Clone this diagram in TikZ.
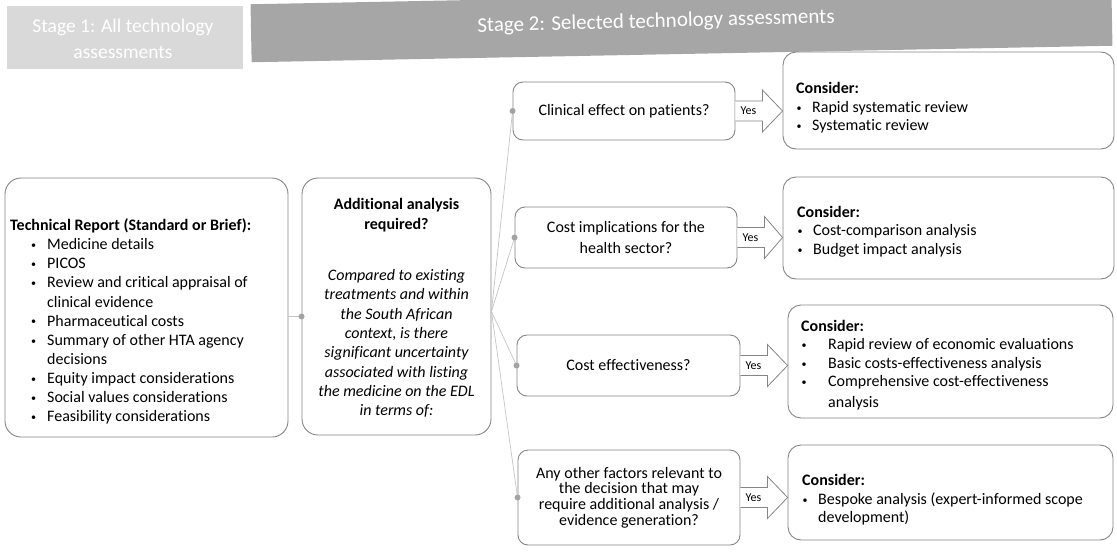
\documentclass[tikz,border=0pt]{standalone}
\usepackage{fontspec}
\setmainfont{Carlito}[Ligatures=NoCommon]
\usetikzlibrary{calc}
\definecolor{stageA}{HTML}{D9D9D9}
\definecolor{stageB}{HTML}{A6A6A6}
\definecolor{boxline}{HTML}{858585}
\definecolor{connc}{HTML}{C4C4C4}
\definecolor{dotc}{HTML}{A3A3A3}
\newcommand\smbul{\raisebox{1.2pt}{\fontsize{10}{10}\selectfont •}}
\newcommand\bul{\makebox[37pt][l]{\hspace{21pt}\smbul}}
\newcommand\ind{\hspace*{37pt}}
\newcommand\cbul{\makebox[16pt][l]{\hspace{0.5pt}\smbul}}
\newcommand\cbulw{\makebox[27pt][l]{\hspace{0.5pt}\smbul}}
\newcommand\cind{\hspace*{27pt}}
\begin{document}
\begin{tikzpicture}[x=1pt,y=-1pt,
  box/.style={draw=boxline, line width=0.9pt, rounded corners=13pt, fill=white, inner sep=0pt},
  qbox/.style={box, rounded corners=10pt, align=center},
  conn/.style={draw=connc, line width=0.7pt},
  yesarr/.style={draw=boxline, line width=0.8pt, fill=white, line join=miter},
  yeslbl/.style={font=\fontsize{12}{14}\selectfont, inner sep=0pt},
  body/.style={inner sep=0pt, align=left, font=\fontsize{16}{19.1}\selectfont},
  stagetxt/.style={text=white, inner sep=0pt, align=center, font=\fontsize{19.5}{25.5}\selectfont},
  dot/.style={fill=dotc}
]
\useasboundingbox (0,0) rectangle (1117,555);

% stage headers
\node[fill=stageA, minimum width=236pt, minimum height=63pt, inner sep=0pt] (s1) at (125,37.5) {};
\node[stagetxt] (s1t) at (123,39) {Stage 1: All technology\\assessments};
\node[fill=stageB, minimum width=861pt, minimum height=58pt, inner sep=0pt, rotate=1.1] (s2) at (681.5,25) {};
\node[stagetxt, font=\fontsize{21}{25}\selectfont, rotate=1.5] (s2t) at (656,22) {Stage 2: Selected technology assessments};

% left box
\node[box, rounded corners=16pt, minimum width=283pt, minimum height=259pt] (lbox) at (146.5,307.5) {};
\node[body, anchor=west] (ltxt) at (10,321.5) {\textbf{Technical Report (Standard or Brief):}\\
\bul Medicine details\\
\bul PICOS\\
\bul Review and critical appraisal of\\
\ind clinical evidence\\
\bul Pharmaceutical costs\\
\bul Summary of other HTA agency\\
\ind decisions\\
\bul Equity impact considerations\\
\bul Social values considerations\\
\bul Feasibility considerations};

% middle box
\node[box, rounded corners=16pt, minimum width=189pt, minimum height=257pt] (mbox) at (396.5,306.5) {};
\node[inner sep=0pt, align=center, font=\fontsize{16}{20}\selectfont\bfseries] (mtitle) at (396.5,215) {Additional analysis\\required?};
\node[inner sep=0pt, align=center, font=\fontsize{16}{19.3}\selectfont\itshape] (mtxt) at (396.5,343.5) {Compared to existing\\treatments and within\\the South African\\context, is there\\significant uncertainty\\associated with listing\\the medicine on the EDL\\in terms of:};

% question boxes
\node[qbox, minimum width=222pt, minimum height=58pt, font=\fontsize{16}{19.5}\selectfont] (q1) at (624,111) {Clinical effect on patients?};
\node[qbox, minimum width=222pt, minimum height=61pt, font=\fontsize{16}{21.5}\selectfont] (q2) at (626,237.5) {Cost implications for the\\health sector?};
\node[qbox, minimum width=223pt, minimum height=61pt, font=\fontsize{16}{19.5}\selectfont] (q3) at (628.5,365.5) {Cost effectiveness?};
\node[qbox, minimum width=222pt, minimum height=95pt, font=\fontsize{16}{15.7}\selectfont] (q4) at (629,497.5) {Any other factors relevant to\\the decision that may\\require additional analysis /\\evidence generation?};

% consider boxes
\node[box, minimum width=331pt, minimum height=97pt] (c1) at (948.5,100.5) {};
\node[body, anchor=west, font=\fontsize{16}{18.5}\selectfont] (c1t) at (796,108) {\textbf{Consider:}\\
\cbul Rapid systematic review\\
\cbul Systematic review};
\node[box, minimum width=331pt, minimum height=102pt] (c2) at (948.5,228) {};
\node[body, anchor=west, font=\fontsize{16}{18.5}\selectfont] (c2t) at (797,231.5) {\textbf{Consider:}\\
\cbul Cost-comparison analysis\\
\cbul Budget impact analysis};
\node[box, minimum width=325pt, minimum height=113pt] (c3) at (950.5,361.5) {};
\node[body, anchor=west, font=\fontsize{16}{18.5}\selectfont] (c3t) at (801,365) {\textbf{Consider:}\\
\cbulw Rapid review of economic evaluations\\
\cbulw Basic costs-effectiveness analysis\\
\cbulw Comprehensive cost-effectiveness\\[2pt]
\cind analysis};
\node[box, minimum width=325pt, minimum height=95pt] (c4) at (950.5,492.5) {};
\node[body, anchor=west, font=\fontsize{16}{18.5}\selectfont] (c4t) at (802,500) {\textbf{Consider:}\\
\cbul Bespoke analysis (expert-informed scope\\
\hspace*{16pt}development)};

% connectors
\coordinate (min) at ($(mbox.west)+(0,10)$);
\coordinate (mout) at ($(mbox.east)+(0,5)$);
\draw[conn] (min -| lbox.east) -- (min);
\foreach \q in {q1,q2,q3,q4}{
  \draw[conn] (mout) -- (\q.west);
}
\fill[dot] (min) circle[radius=3pt];
\foreach \q in {q1,q2,q3,q4}{
  \fill[dot] (\q.west) circle[radius=3pt];
}

% yes arrows
\foreach \q/\c in {q1/c1,q2/c2,q3/c3,q4/c4}{
  \draw[yesarr] ($(\q.east)+(0,10)$) -- ($(\q.east)+(27,10)$) -- ($(\q.east)+(27,21)$)
     -- (\c.west |- \q.east) -- ($(\q.east)+(27,-21)$) -- ($(\q.east)+(27,-10)$) -- ($(\q.east)+(0,-10)$);
  \node[yeslbl] (y\q) at ($(\q.east)+(13,0)$) {Yes};
}
\end{tikzpicture}
\end{document}
